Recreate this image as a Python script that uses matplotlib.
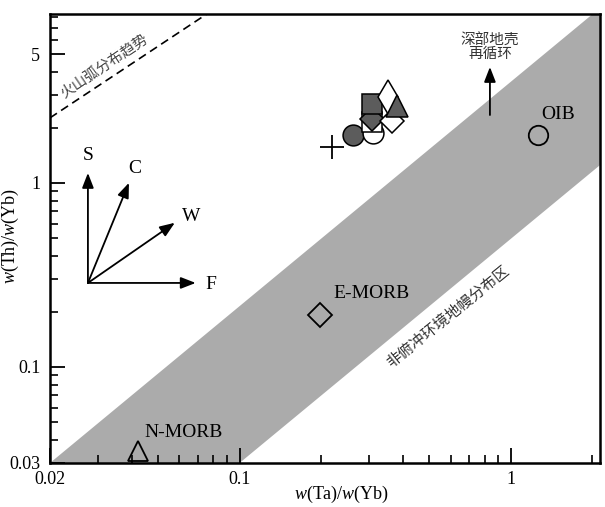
"""
w(Th)/w(Yb) - w(Ta)/w(Yb) 判别图
"""

import matplotlib

matplotlib.use("Agg")
import matplotlib.pyplot as plt
from matplotlib.ticker import LogLocator, NullFormatter, FixedLocator, FixedFormatter

plt.rcParams["font.family"] = ["Liberation Serif", "Noto Sans CJK SC"]
plt.rcParams["mathtext.fontset"] = "custom"
plt.rcParams["mathtext.it"] = "Liberation Serif:italic"
plt.rcParams["mathtext.rm"] = "Liberation Serif"

CJK = ["Noto Sans CJK SC", "DejaVu Sans"]

# === 数据 ===
# 参考端元
ref_names = ["N-MORB", "E-MORB", "OIB"]
ref_x = [0.0424, 0.198, 1.26]
ref_y = [0.0349, 0.192, 1.82]
ref_marker = ["^", "D", "o"]

# 样品点
sample_x = [0.219, 0.262, 0.311, 0.308, 0.308, 0.308, 0.366, 0.353, 0.381]
sample_y = [1.57, 1.82, 1.87, 2.15, 2.23, 2.69, 2.17, 2.93, 2.62]
sample_marker = ["+", "o", "o", "s", "D", "s", "D", "d", "^"]
sample_filled = [False, True, False, False, True, True, False, False, True]

# 非俯冲环境地幔分布区（灰色带）边界
band_x = [0.02, 0.1, 2.2, 2.2]
band_y = [0.03, 0.03, 1.30, 9.3]

# 火山弧分布趋势线
arc_x = [0.02, 0.0757]
arc_y = [2.26, 8.3]

GRAY_BAND = "#ababab"
GRAY_FILL = "#5c5c5c"


def draw():
    fig = plt.figure(figsize=(6.05, 5.07), dpi=100)
    ax = fig.add_axes([0.0826, 0.0868, 0.909, 0.8856])
    ax.set_xscale("log")
    ax.set_yscale("log")
    ax.set_xlim(0.02, 2.13)
    ax.set_ylim(0.03, 8.3)

    # 灰色带
    ax.fill(band_x, band_y, color=GRAY_BAND, lw=0, zorder=1)

    # 火山弧趋势
    ax.plot(arc_x, arc_y, ls=(0, (5, 3)), color="black", lw=1.2, zorder=2)
    ax.text(0.1, 0.882, "火山弧分布趋势", transform=ax.transAxes, rotation=34,
            ha="center", va="center", fontsize=10.5, color="#444444", family=CJK)

    # 参考端元
    for name, x, y, m in zip(ref_names, ref_x, ref_y, ref_marker):
        ax.plot(x, y, marker=m, ms=14 if m != "D" else 12, mfc="none",
                mec="black", mew=1.3, ls="none", zorder=4)
    ax.text(0.243, 0.067, "N-MORB", transform=ax.transAxes, ha="center",
            va="center", fontsize=14)
    ax.text(0.585, 0.378, "E-MORB", transform=ax.transAxes, ha="center",
            va="center", fontsize=14)
    ax.text(0.924, 0.777, "OIB", transform=ax.transAxes, ha="center",
            va="center", fontsize=14)

    # 样品
    for x, y, m, f in zip(sample_x, sample_y, sample_marker, sample_filled):
        if m == "+":
            ax.plot(x, y, marker="+", ms=17, mew=1.3, color="black",
                    ls="none", zorder=5)
            continue
        ms = {"o": 15, "s": 14, "D": 12, "d": 17, "^": 16}[m]
        ax.plot(x, y, marker=m, ms=ms, mfc=GRAY_FILL if f else "white",
                mec="black", mew=1.1, ls="none", zorder=5)

    # S C W F 矢量
    origin = (0.069, 0.401)
    vecs = [
        ("S", (0.069, 0.646), (0.069, 0.684)),
        ("C", (0.1436, 0.624), (0.154, 0.655)),
        ("W", (0.227, 0.535), (0.256, 0.548)),
        ("F", (0.265, 0.401), (0.292, 0.397)),
    ]
    for lab, tip, lpos in vecs:
        ax.annotate("", xy=tip, xytext=origin, xycoords="axes fraction",
                    textcoords="axes fraction",
                    arrowprops=dict(arrowstyle="-|>,head_length=0.9,head_width=0.35",
                                    color="black", lw=1.3, shrinkA=0, shrinkB=0))
        ax.text(*lpos, lab, transform=ax.transAxes, ha="center", va="center",
                fontsize=14)

    # 深部地壳再循环
    ax.annotate("", xy=(0.8, 0.882), xytext=(0.8, 0.775), xycoords="axes fraction",
                textcoords="axes fraction",
                arrowprops=dict(arrowstyle="-|>,head_length=0.9,head_width=0.35",
                                color="black", lw=1.3, shrinkA=0, shrinkB=0))
    ax.text(0.8, 0.926, "深部地壳\n再循环", transform=ax.transAxes, ha="center",
            va="center", fontsize=10.5, color="#333333", family=CJK,
            linespacing=0.95)

    ax.text(0.724, 0.327, "非俯冲环境地幔分布区", transform=ax.transAxes,
            rotation=39, ha="center", va="center", fontsize=11,
            color="#333333", family=CJK)

    # === 坐标轴 ===
    ax.xaxis.set_major_locator(FixedLocator([0.02, 0.1, 1]))
    ax.xaxis.set_major_formatter(FixedFormatter(["0.02", "0.1", "1"]))
    ax.xaxis.set_minor_locator(LogLocator(base=10, subs=range(2, 10), numticks=20))
    ax.xaxis.set_minor_formatter(NullFormatter())
    ax.yaxis.set_major_locator(FixedLocator([0.03, 0.1, 1, 5]))
    ax.yaxis.set_major_formatter(FixedFormatter(["0.03", "0.1", "1", "5"]))
    ax.yaxis.set_minor_locator(LogLocator(base=10, subs=range(2, 10), numticks=20))
    ax.yaxis.set_minor_formatter(NullFormatter())

    ax.tick_params(which="major", direction="in", length=11, width=1.3,
                   labelsize=13, top=False, right=False)
    ax.tick_params(axis="x", which="major", pad=6)
    ax.tick_params(axis="y", which="major", pad=7)
    ax.tick_params(which="minor", direction="in", length=6, width=1.2,
                   top=False, right=False)
    for s in ax.spines.values():
        s.set_linewidth(1.8)

    ax.set_xlabel("$w$(Ta)/$w$(Yb)", fontsize=13)
    ax.xaxis.set_label_coords(0.53, -0.046)
    ax.set_ylabel("$w$(Th)/$w$(Yb)", fontsize=13)
    ax.yaxis.set_label_coords(-0.052, 0.505)

    return fig


if __name__ == "__main__":
    fig = draw()
    fig.savefig("out.png", dpi=100)
